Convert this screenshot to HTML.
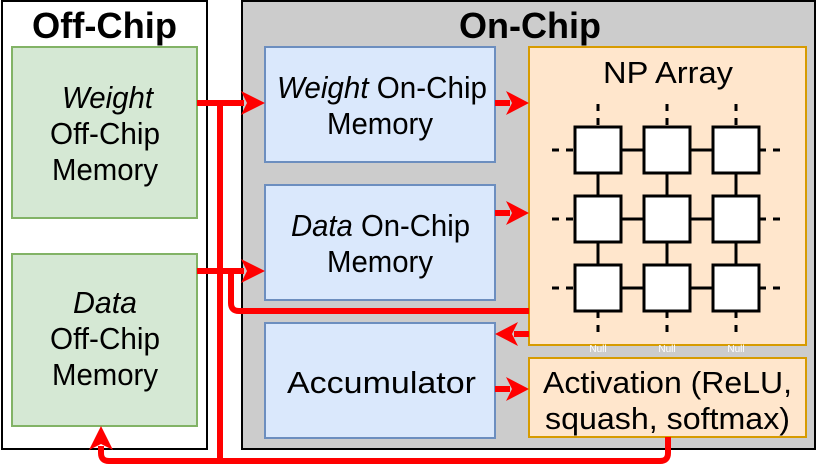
<!DOCTYPE html>
<html><head><style>html,body{margin:0;padding:0;background:#fff;}svg{display:block}</style></head><body>
<svg width="831" height="470" viewBox="0 0 831 470" xmlns="http://www.w3.org/2000/svg" font-family="Liberation Sans, sans-serif">
<rect x="2" y="1" width="205" height="448" fill="#fff" stroke="#000" stroke-width="2"/>
<rect x="242" y="1" width="573" height="448" fill="#cccccc" stroke="#000" stroke-width="2"/>
<text x="32" y="38" font-size="36" font-weight="bold" textLength="145" lengthAdjust="spacingAndGlyphs">Off-Chip</text>
<text x="459" y="38" font-size="36" font-weight="bold" textLength="142" lengthAdjust="spacingAndGlyphs">On-Chip</text>
<g fill="#d5e8d4" stroke="#82b366" stroke-width="2">
<rect x="12" y="47" width="185" height="171"/><rect x="12" y="254" width="185" height="172"/></g>
<g fill="#dae8fc" stroke="#6c8ebf" stroke-width="2">
<rect x="265" y="47" width="230" height="115"/><rect x="265" y="185" width="230" height="115"/><rect x="265" y="323" width="230" height="115"/></g>
<g fill="#ffe6cc" stroke="#d79b00" stroke-width="2">
<rect x="529" y="47" width="277" height="298"/><rect x="529" y="358" width="277" height="79"/></g>
<g font-size="31">
<text x="62" y="108" font-style="italic" textLength="91" lengthAdjust="spacingAndGlyphs">Weight</text>
<text x="50" y="144" textLength="110" lengthAdjust="spacingAndGlyphs">Off-Chip</text>
<text x="52" y="180" textLength="106" lengthAdjust="spacingAndGlyphs">Memory</text>
<text x="73" y="313" font-style="italic" textLength="64" lengthAdjust="spacingAndGlyphs">Data</text>
<text x="50" y="349" textLength="110" lengthAdjust="spacingAndGlyphs">Off-Chip</text>
<text x="52" y="385" textLength="106" lengthAdjust="spacingAndGlyphs">Memory</text>
<text x="277" y="98" textLength="210" lengthAdjust="spacingAndGlyphs"><tspan font-style="italic">Weight</tspan> On-Chip</text>
<text x="327" y="134" textLength="106" lengthAdjust="spacingAndGlyphs">Memory</text>
<text x="291" y="236" textLength="179" lengthAdjust="spacingAndGlyphs"><tspan font-style="italic">Data</tspan> On-Chip</text>
<text x="327" y="272" textLength="106" lengthAdjust="spacingAndGlyphs">Memory</text>
<text x="287" y="393" textLength="189" lengthAdjust="spacingAndGlyphs">Accumulator</text>
<text x="603" y="83" textLength="130" lengthAdjust="spacingAndGlyphs">NP Array</text>
<text x="543" y="393" textLength="249" lengthAdjust="spacingAndGlyphs">Activation (ReLU,</text>
<text x="545" y="429" textLength="245" lengthAdjust="spacingAndGlyphs">squash, softmax)</text>
</g>
<g fill="#fff" font-size="10" text-anchor="middle"><text x="598" y="352">Null</text><text x="667" y="352">Null</text><text x="736" y="352">Null</text></g>
<g stroke="#000" stroke-width="3">
<line x1="598" y1="150" x2="736" y2="150"/><line x1="598" y1="219" x2="736" y2="219"/><line x1="598" y1="288" x2="736" y2="288"/>
<line x1="598" y1="150" x2="598" y2="288"/><line x1="667" y1="150" x2="667" y2="288"/><line x1="736" y1="150" x2="736" y2="288"/>
</g>
<g stroke="#000" stroke-width="3" stroke-dasharray="7,7">
<line x1="552" y1="150" x2="575" y2="150"/><line x1="552" y1="219" x2="575" y2="219"/><line x1="552" y1="288" x2="575" y2="288"/>
<line x1="759" y1="150" x2="785" y2="150"/><line x1="759" y1="219" x2="785" y2="219"/><line x1="759" y1="288" x2="785" y2="288"/>
<line x1="598" y1="104" x2="598" y2="127"/><line x1="667" y1="104" x2="667" y2="127"/><line x1="736" y1="104" x2="736" y2="127"/>
<line x1="598" y1="311" x2="598" y2="335"/><line x1="667" y1="311" x2="667" y2="335"/><line x1="736" y1="311" x2="736" y2="335"/>
</g>
<g fill="#fff" stroke="#000" stroke-width="3">
<rect x="575" y="127" width="46" height="46"/><rect x="644" y="127" width="46" height="46"/><rect x="713" y="127" width="46" height="46"/>
<rect x="575" y="196" width="46" height="46"/><rect x="644" y="196" width="46" height="46"/><rect x="713" y="196" width="46" height="46"/>
<rect x="575" y="265" width="46" height="46"/><rect x="644" y="265" width="46" height="46"/><rect x="713" y="265" width="46" height="46"/>
</g>
<g stroke="#ff0000" stroke-width="6" fill="none" stroke-linecap="butt">
<line x1="197" y1="103" x2="244" y2="103"/>
<line x1="197" y1="271" x2="244" y2="271"/>
<line x1="220" y1="103" x2="220" y2="461"/>
<path d="M231 271 V303 Q231 311 239 311 H529"/>
<path d="M668 437 V453 Q668 461 660 461 H109 Q101 461 101 453 V446"/>
<line x1="495" y1="103" x2="510" y2="103"/>
<line x1="495" y1="213" x2="510" y2="213"/>
<line x1="529" y1="334" x2="514" y2="334"/>
<line x1="495" y1="389" x2="510" y2="389"/>
</g>
<g fill="#ff0000">
<polygon points="265,103 241,91 247,103 241,115"/>
<polygon points="265,271 241,259 247,271 241,283"/>
<polygon points="529,103 506,91 512,103 506,115"/>
<polygon points="529,213 506,201 512,213 506,225"/>
<polygon points="495,334 518,322 512,334 518,346"/>
<polygon points="529,389 506,377 512,389 506,401"/>
<polygon points="101,426 89,450 101,444 113,450"/>
</g>
</svg>
</body></html>
